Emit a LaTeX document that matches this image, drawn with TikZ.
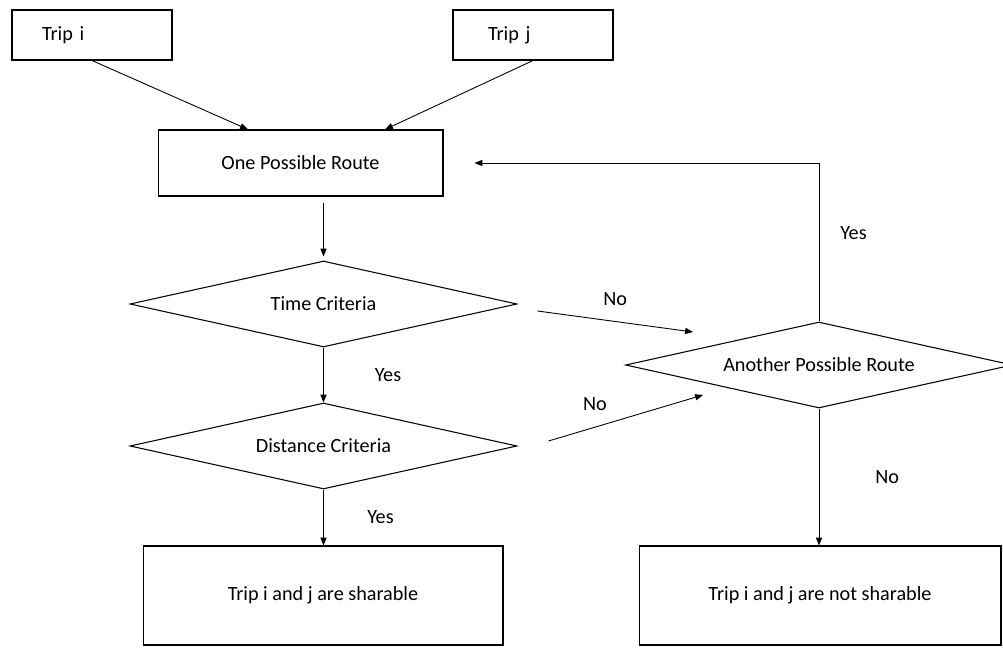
\documentclass[tikz,border=0pt]{standalone}
\usepackage{fontspec}
\setmainfont{Carlito}
\usetikzlibrary{positioning, arrows.meta, shapes.geometric, calc}

\begin{document}
\begin{tikzpicture}[
    x=0.02cm, y=-0.02cm,
    >={Triangle[length=4.5pt, width=3.5pt]},
    font=\fontsize{11.5}{14}\selectfont,
    % Styles
    tripbox/.style={draw, rectangle, line width=0.6pt, minimum height=1cm, align=left, inner xsep=0.6cm, text width=2cm},
    stepbox/.style={draw, rectangle, line width=0.6pt, align=center},
    decision/.style={draw, diamond, aspect=4.5, line width=0.6pt, inner sep=0pt, minimum width=7.74cm, minimum height=1.72cm, align=center},
    flow/.style={->, line width=0.5pt}
    ]
    \useasboundingbox (0,0) rectangle (1003,648);

    % 1. Trips
    \node (tripi) [tripbox] at (92,35) {Trip i};
    \node (tripj) [tripbox, inner xsep=0.7cm, text width=1.8cm] at (533,35) {Trip j};

    % 2. Candidate route
    \node (route) [stepbox, minimum width=5.7cm, minimum height=1.32cm] at (300.5,163) {One Possible Route};

    % 3. Checks
    \node (time) [decision] at (323.5,304) {Time Criteria};
    \node (dist) [decision] at (323.5,446) {Distance Criteria};
    \node (another) [decision] at (819,365) {Another Possible Route};

    % 4. Outcomes
    \node (share) [stepbox, minimum width=7.2cm, minimum height=1.98cm] at (323,595.5) {Trip i and j are sharable};
    \node (noshare) [stepbox, minimum width=7.24cm, minimum height=1.98cm] at (820,595.5) {Trip i and j are not sharable};

    % Free ends of the floating arrows
    \coordinate (no1a) at ([shift={(20,7)}]time.east);
    \coordinate (no1b) at ([shift={(68,-33)}]another.west);
    \coordinate (no2a) at ([shift={(31,-5)}]dist.east);
    \coordinate (no2b) at ([shift={(78,30)}]another.west);
    \coordinate (loopend) at ([xshift=0.62cm]route.east);

    % Connections / Arrows
    \draw[flow] (tripi.south) -- ([xshift=-1.05cm]route.north);
    \draw[flow] (tripj.south) -- ([xshift=1.69cm]route.north);
    \draw[flow, shorten <=0.12cm, shorten >=0.08cm] (route.south -| time.north) -- (time.north);
    \draw[flow] (time.south) -- (dist.north) node[midway, right=0.9cm] {Yes};
    \draw[flow] (dist.south) -- (dist.south |- share.north) node[midway, right=0.75cm] {Yes};
    \draw[flow] (no1a) -- (no1b) node[midway, above=0.2cm] {No};
    \draw[flow] (no2a) -- (no2b) node[pos=0.3, above=0.2cm] {No};
    \draw[flow] (another.north) |- (loopend) node[pos=0.28, right=0.3cm] {Yes};
    \draw[flow] (another.south) -- (another.south |- noshare.north) node[midway, right=1cm] {No};
\end{tikzpicture}
\end{document}
